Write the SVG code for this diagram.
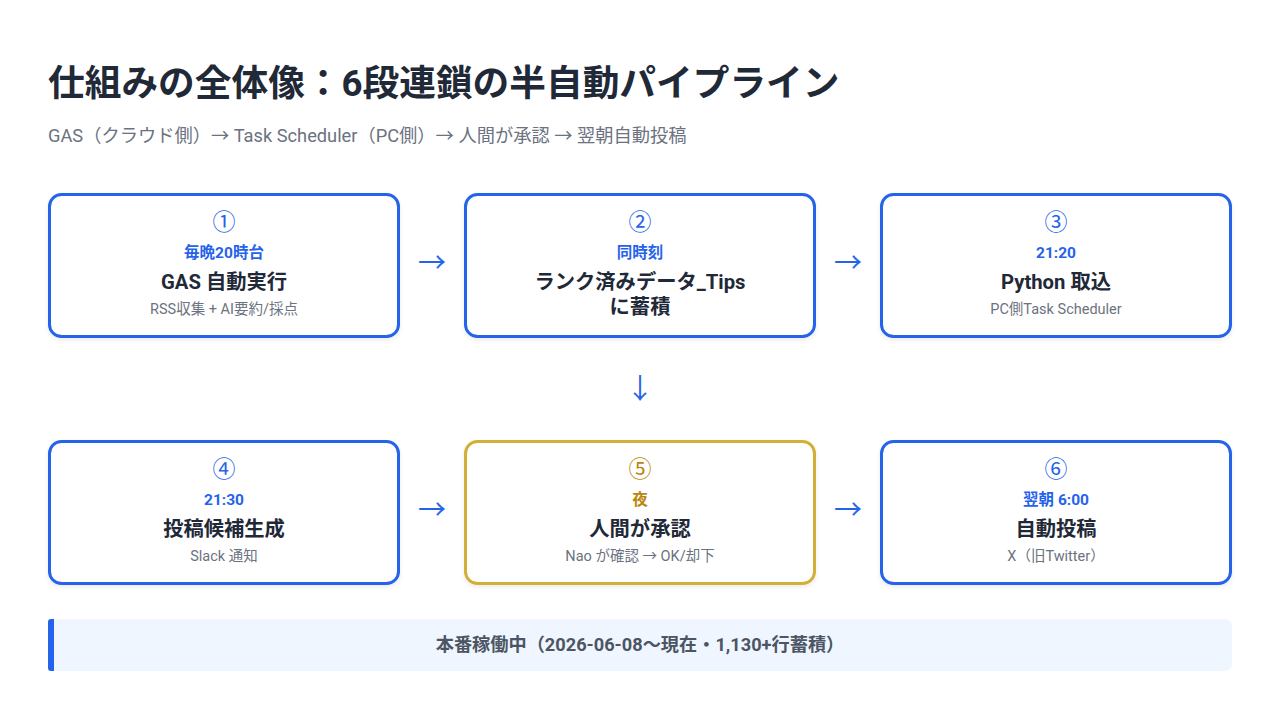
<svg xmlns="http://www.w3.org/2000/svg" width="1280" height="720" viewBox="0 0 1280 720">
<defs>
<style>
text{font-family:Roboto,"Noto Sans CJK JP",sans-serif;text-anchor:middle}
.box{fill:#fff;stroke:#2563eb;stroke-width:3}
.gold{stroke:#d4af37}
.num{font-size:23px;fill:#2563eb;font-family:"Noto Sans CJK JP",sans-serif}
.time{font-size:15.5px;font-weight:700;fill:#2563eb}
.head{font-size:20.300px;font-weight:700;fill:#1f2937}
.sub{font-size:14.500px;fill:#6b7280}
.arr{font-size:28px;fill:#2563eb;font-family:"Noto Sans CJK JP",sans-serif}
</style>
<filter id="sh" x="-10%" y="-10%" width="120%" height="130%"><feDropShadow dx="0" dy="2" stdDeviation="2" flood-color="#000" flood-opacity="0.08"/></filter>
</defs>
<rect width="1280" height="720" fill="#fff"/>
<text x="48" y="96" style="text-anchor:start;font-size:36.700px;font-weight:700;fill:#1f2937">仕組みの全体像：6段連鎖の半自動パイプライン</text>
<text x="48" y="142" style="text-anchor:start;font-size:18.250px;fill:#6b7280">GAS（クラウド側）→ Task Scheduler（PC側）→ 人間が承認 → 翌朝自動投稿</text>

<g id="connectors">
<text class="arr" x="432" y="273">→</text>
<text class="arr" x="848" y="273">→</text>
<text class="arr" x="640" y="399">↓</text>
<text class="arr" x="432" y="520">→</text>
<text class="arr" x="848" y="520">→</text>
</g>

<g id="n1">
<rect class="box" x="49.500" y="194.500" width="349" height="142" rx="12" filter="url(#sh)"/>
<text class="num" x="224" y="230">①</text>
<text class="time" x="224" y="258">毎晩20時台</text>
<text class="head" x="224" y="289">GAS 自動実行</text>
<text class="sub" x="224" y="314">RSS収集 + AI要約/採点</text>
</g>
<g id="n2">
<rect class="box" x="465.500" y="194.500" width="349" height="142" rx="12" filter="url(#sh)"/>
<text class="num" x="640" y="230">②</text>
<text class="time" x="640" y="258">同時刻</text>
<text class="head" x="640" y="289">ランク済みデータ_Tips</text>
<text class="head" x="640" y="314">に蓄積</text>
</g>
<g id="n3">
<rect class="box" x="881.500" y="194.500" width="349" height="142" rx="12" filter="url(#sh)"/>
<text class="num" x="1056" y="230">③</text>
<text class="time" x="1056" y="258">21:20</text>
<text class="head" x="1056" y="289">Python 取込</text>
<text class="sub" x="1056" y="314">PC側Task Scheduler</text>
</g>
<g id="n4">
<rect class="box" x="49.500" y="441.500" width="349" height="142" rx="12" filter="url(#sh)"/>
<text class="num" x="224" y="477">④</text>
<text class="time" x="224" y="505">21:30</text>
<text class="head" x="224" y="536">投稿候補生成</text>
<text class="sub" x="224" y="561">Slack 通知</text>
</g>
<g id="n5">
<rect class="box gold" x="465.500" y="441.500" width="349" height="142" rx="12" filter="url(#sh)"/>
<text class="num" x="640" y="477" style="fill:#b8860b">⑤</text>
<text class="time" x="640" y="505" style="fill:#b8860b">夜</text>
<text class="head" x="640" y="536">人間が承認</text>
<text class="sub" x="640" y="561">Nao が確認 → OK/却下</text>
</g>
<g id="n6">
<rect class="box" x="881.500" y="441.500" width="349" height="142" rx="12" filter="url(#sh)"/>
<text class="num" x="1056" y="477">⑥</text>
<text class="time" x="1056" y="505">翌朝 6:00</text>
<text class="head" x="1056" y="536">自動投稿</text>
<text class="sub" x="1056" y="561">X（旧Twitter）</text>
</g>

<g id="status">
<rect x="48" y="619" width="1184" height="52" rx="7" fill="#eff6ff"/>
<rect x="48" y="619" width="6" height="52" fill="#2563eb" rx="3"/>
<rect x="51" y="619" width="3" height="52" fill="#2563eb"/>
<text x="640" y="651" style="font-size:18.200px;font-weight:700;fill:#4b5563">本番稼働中（2026-06-08〜現在・1,130+行蓄積）</text>
</g>
</svg>
